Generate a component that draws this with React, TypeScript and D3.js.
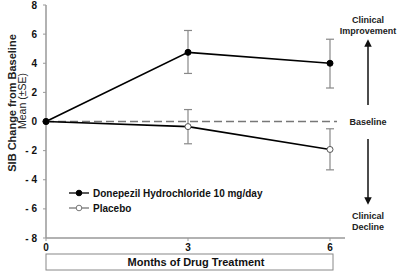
import React from "react";
import * as d3 from "d3";

const months = [0, 3, 6];
const donepezilMean = [0, 4.75, 4.0];
const donepezilUpper = [0, 6.25, 5.65];
const donepezilLower = [0, 3.3, 2.3];
const placeboMean = [0, -0.35, -1.92];
const placeboUpper = [0, 0.82, -0.5];
const placeboLower = [0, -1.53, -3.32];
const yTicks = [8, 6, 4, 2, 0, -2, -4, -6, -8];
const xTicks = [0, 3, 6];
const seriesNames = ["Donepezil Hydrochloride 10 mg/day", "Placebo"];

const W = 400;
const H = 272;
const FONT = "Arial, 'Liberation Sans', sans-serif";

export default function App() {
  const x = d3.scaleLinear().domain([0, 6]).range([46, 330]);
  const y = d3.scaleLinear().domain([-8, 8]).range([238, 5]);
  const line = d3
    .line<number>()
    .x((_, i) => x(months[i]))
    .y((d) => y(d));

  const series = [
    { mean: donepezilMean, up: donepezilUpper, lo: donepezilLower, fill: "#000" },
    { mean: placeboMean, up: placeboUpper, lo: placeboLower, fill: "#fff" },
  ];

  const fmt = (v: number) => (v < 0 ? "- " + Math.abs(v) : String(v));

  return (
    <svg
      width={W}
      height={H}
      style={{ position: "absolute", left: 0, top: 0, background: "#fff" }}
      fontFamily={FONT}
    >
      <rect x={0} y={0} width={W} height={H} fill="#fff" />
      {/* axes */}
      <line x1={x(0)} x2={x(0)} y1={y(8)} y2={y(-8)} stroke="#999" strokeWidth={1.5} />
      <line x1={x(0)} x2={345} y1={y(-8)} y2={y(-8)} stroke="#999" strokeWidth={1.5} />
      {yTicks.map((t) => (
        <g key={t}>
          <line x1={x(0) - 3} x2={x(0)} y1={y(t)} y2={y(t)} stroke="#999" strokeWidth={1} />
          <text
            x={37}
            y={y(t)}
            dy="0.35em"
            textAnchor="end"
            fontSize={10}
            fontWeight="bold"
            fill="#111"
          >
            {fmt(t)}
          </text>
        </g>
      ))}
      {xTicks.map((t) => (
        <g key={t}>
          <line x1={x(t)} x2={x(t)} y1={y(-8)} y2={y(-8) + 3} stroke="#999" strokeWidth={1} />
          <text x={x(t)} y={251} textAnchor="middle" fontSize={10} fontWeight="bold" fill="#111">
            {t}
          </text>
        </g>
      ))}
      {/* baseline dashed */}
      <line
        x1={x(0)}
        x2={337}
        y1={y(0)}
        y2={y(0)}
        stroke="#777"
        strokeWidth={1.5}
        strokeDasharray="8,4"
      />
      {/* error bars */}
      {series.map((s, si) =>
        months.map((m, i) =>
          i === 0 ? null : (
            <g key={si + "-" + i} stroke="#888" strokeWidth={1.2}>
              <line x1={x(m)} x2={x(m)} y1={y(s.up[i])} y2={y(s.lo[i])} />
              <line x1={x(m) - 4} x2={x(m) + 4} y1={y(s.up[i])} y2={y(s.up[i])} />
              <line x1={x(m) - 4} x2={x(m) + 4} y1={y(s.lo[i])} y2={y(s.lo[i])} />
            </g>
          )
        )
      )}
      {/* lines */}
      {series
        .slice()
        .reverse()
        .map((s, si) => (
          <path key={si} d={line(s.mean) || ""} fill="none" stroke="#000" strokeWidth={1.6} />
        ))}
      {series
        .slice()
        .reverse()
        .map((s, si) =>
          s.mean.map((v, i) => (
            <circle
              key={si + "-" + i}
              cx={x(months[i])}
              cy={y(v)}
              r={3}
              fill={s.fill}
              stroke={s.fill === "#fff" ? "#555" : "#000"}
              strokeWidth={1}
            />
          ))
        )}
      {/* legend */}
      {seriesNames.map((n, i) => (
        <g key={n} transform={`translate(0, ${193 + i * 15})`}>
          <line x1={69} x2={89} y1={0} y2={0} stroke={i === 0 ? "#000" : "#777"} strokeWidth={1.3} />
          <circle
            cx={79}
            cy={0}
            r={2.8}
            fill={i === 0 ? "#000" : "#fff"}
            stroke={i === 0 ? "#000" : "#777"}
          />
          <text x={93} y={0} dy="0.35em" fontSize={10} fontWeight="bold" fill="#111">
            {n}
          </text>
        </g>
      ))}
      {/* y title */}
      <text
        transform={`translate(16, 103) rotate(-90)`}
        textAnchor="middle"
        fontSize={11}
        fontWeight="bold"
        fill="#222"
      >
        SIB Change from Baseline
      </text>
      <text
        transform={`translate(26, 101) rotate(-90)`}
        textAnchor="middle"
        fontSize={10.5}
        fill="#222"
      >
        Mean (±SE)
      </text>
      {/* x title box */}
      <rect x={46} y={254} width={287} height={16} fill="#fff" stroke="#888" strokeWidth={1} />
      <text x={196} y={262} dy="0.35em" textAnchor="middle" fontSize={11} fontWeight="bold" fill="#111">
        Months of Drug Treatment
      </text>
      {/* right annotations */}
      <defs>
        <marker id="ah" viewBox="0 0 10 10" refX={5} refY={5} markerWidth={5} markerHeight={5} orient="auto">
          <path d="M0,0 L10,5 L0,10 z" fill="#111" />
        </marker>
      </defs>
      <g fontSize={9} fontWeight="bold" fill="#222" textAnchor="middle">
        <text x={368} y={23}>Clinical</text>
        <text x={368} y={34}>Improvement</text>
        <text x={368} y={122} dy="0.35em">Baseline</text>
        <text x={368} y={219}>Clinical</text>
        <text x={368} y={230}>Decline</text>
      </g>
      <line x1={368} x2={368} y1={105} y2={43} stroke="#111" strokeWidth={1.5} markerEnd="url(#ah)" />
      <line x1={368} x2={368} y1={139} y2={201} stroke="#111" strokeWidth={1.5} markerEnd="url(#ah)" />
    </svg>
  );
}
